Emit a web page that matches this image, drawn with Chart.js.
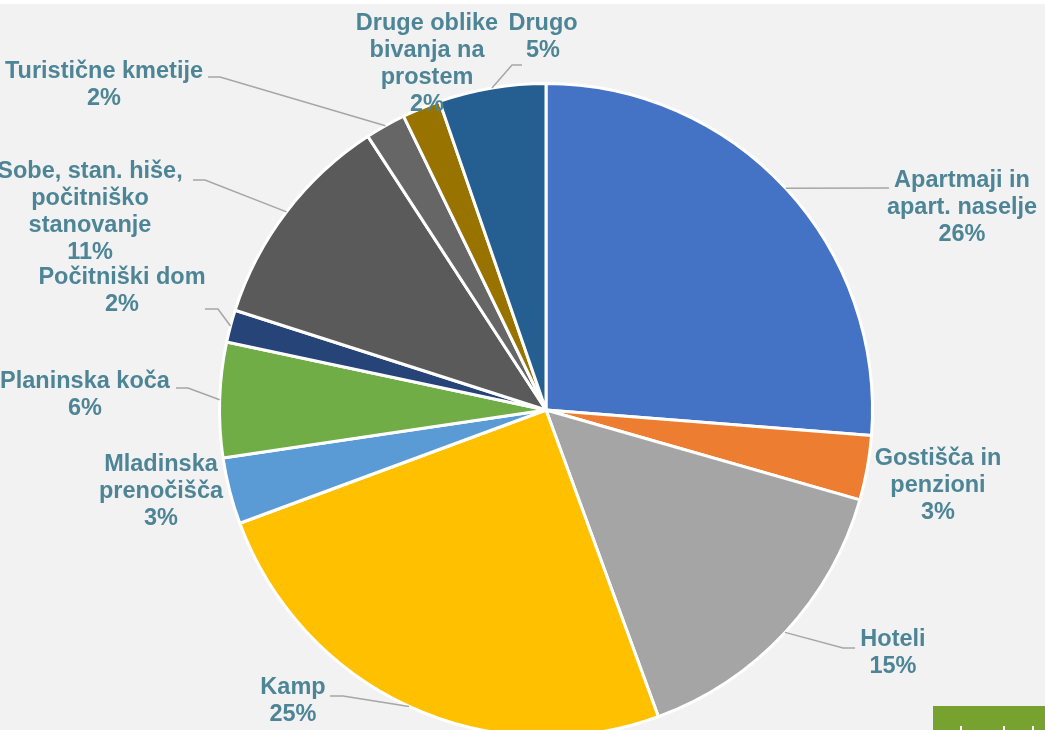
<!DOCTYPE html>
<html>
<head>
<meta charset="utf-8">
<script src="https://cdn.jsdelivr.net/npm/chart.js@4.4.0/dist/chart.umd.min.js"></script>
<style>
  html, body { margin: 0; padding: 0; background: #f2f2f2; overflow: hidden; width: 1045px; height: 730px; }
  #topStrip { position: absolute; left: 0; top: 0; width: 1045px; height: 4px; background: #fff; }
  #wrap { position: absolute; left: 0; top: 0; width: 1045px; height: 770px; }
  #badge { position: absolute; left: 933px; top: 706px; width: 112px; height: 24px; background: #78a22f; }
  #badge i { position: absolute; top: 20px; width: 2px; height: 4px; background: #fff; }
</style>
</head>
<body>
<div id="topStrip"></div>
<div id="wrap"><canvas id="pie" width="1045" height="770"></canvas></div>
<div id="badge"><i style="left:27px"></i><i style="left:70px"></i><i style="left:99px"></i></div>
<script>
// categories, clockwise from 12 o'clock
const categories = [
    ['Apartmaji in', 'apart. naselje'],
    ['Gostišča in', 'penzioni'],
    ['Hoteli'],
    ['Kamp'],
    ['Mladinska', 'prenočišča'],
    ['Planinska koča'],
    ['Počitniški dom'],
    ['Sobe, stan. hiše,', 'počitniško', 'stanovanje'],
    ['Turistične kmetije'],
    ['Druge oblike', 'bivanja na', 'prostem'],
    ['Drugo']
];
const shares = [26.3, 3.2, 15.0, 25.0, 3.3, 5.7, 1.6, 10.9, 2.0, 1.9, 5.3];
const colors = ['#4472c4', '#ed7d31', '#a5a5a5', '#ffc000', '#5b9bd5', '#70ad47',
                '#264478', '#5a5a5a', '#666666', '#997300', '#255e91'];

// label placement (center x, first line y) and leader end/elbow points
const labelAt = [[962, 181], [938, 459], [893, 640], [293, 688], [161, 465], [85, 382],
                 [122, 278], [90, 172], [104, 72], [427, 24], [543, 24]];
const leaders = [[889, 188, 889, 188], null, [855, 648, 843, 648], [330, 696, 343, 696], null,
                 [176, 388, 188, 388], [205, 309, 218, 309], [193, 180, 205, 180],
                 [208, 77, 220, 77], null, [522, 65, 512, 65]];

const labelPlugin = {
    id: 'pieLabels',
    afterDatasetsDraw(chart) {
        const ctx = chart.ctx;
        const arcs = chart.getDatasetMeta(0).data;
        const total = shares.reduce((a, b) => a + b, 0);
        ctx.save();
        ctx.strokeStyle = '#a6a6a6';
        ctx.lineWidth = 1.5;
        arcs.forEach((arc, i) => {
            const ld = leaders[i];
            if (!ld) return;
            const p = arc.getProps(['x', 'y', 'startAngle', 'endAngle', 'outerRadius'], true);
            const mid = (p.startAngle + p.endAngle) / 2;
            ctx.beginPath();
            ctx.moveTo(p.x + Math.cos(mid) * p.outerRadius, p.y + Math.sin(mid) * p.outerRadius);
            ctx.lineTo(ld[2], ld[3]);
            ctx.lineTo(ld[0], ld[1]);
            ctx.stroke();
        });
        ctx.fillStyle = '#4d8597';
        ctx.font = 'bold 23.5px "Liberation Sans", Arial, sans-serif';
        ctx.textAlign = 'center';
        ctx.textBaseline = 'middle';
        arcs.forEach((arc, i) => {
            const lines = categories[i].concat([Math.round(shares[i] / total * 100) + '%']);
            lines.forEach((t, k) => ctx.fillText(t, labelAt[i][0], labelAt[i][1] + k * 27));
        });
        ctx.restore();
    }
};

new Chart(document.getElementById('pie'), {
    type: 'pie',
    data: {
        labels: categories,
        datasets: [{
            data: shares,
            backgroundColor: colors,
            borderColor: '#ffffff',
            borderWidth: 3
        }]
    },
    options: {
        responsive: false,
        animation: false,
        layout: { padding: { left: 218, right: 171, top: 82, bottom: 32 } },
        plugins: { legend: { display: false }, tooltip: { enabled: false } }
    },
    plugins: [labelPlugin]
});
</script>
</body>
</html>
